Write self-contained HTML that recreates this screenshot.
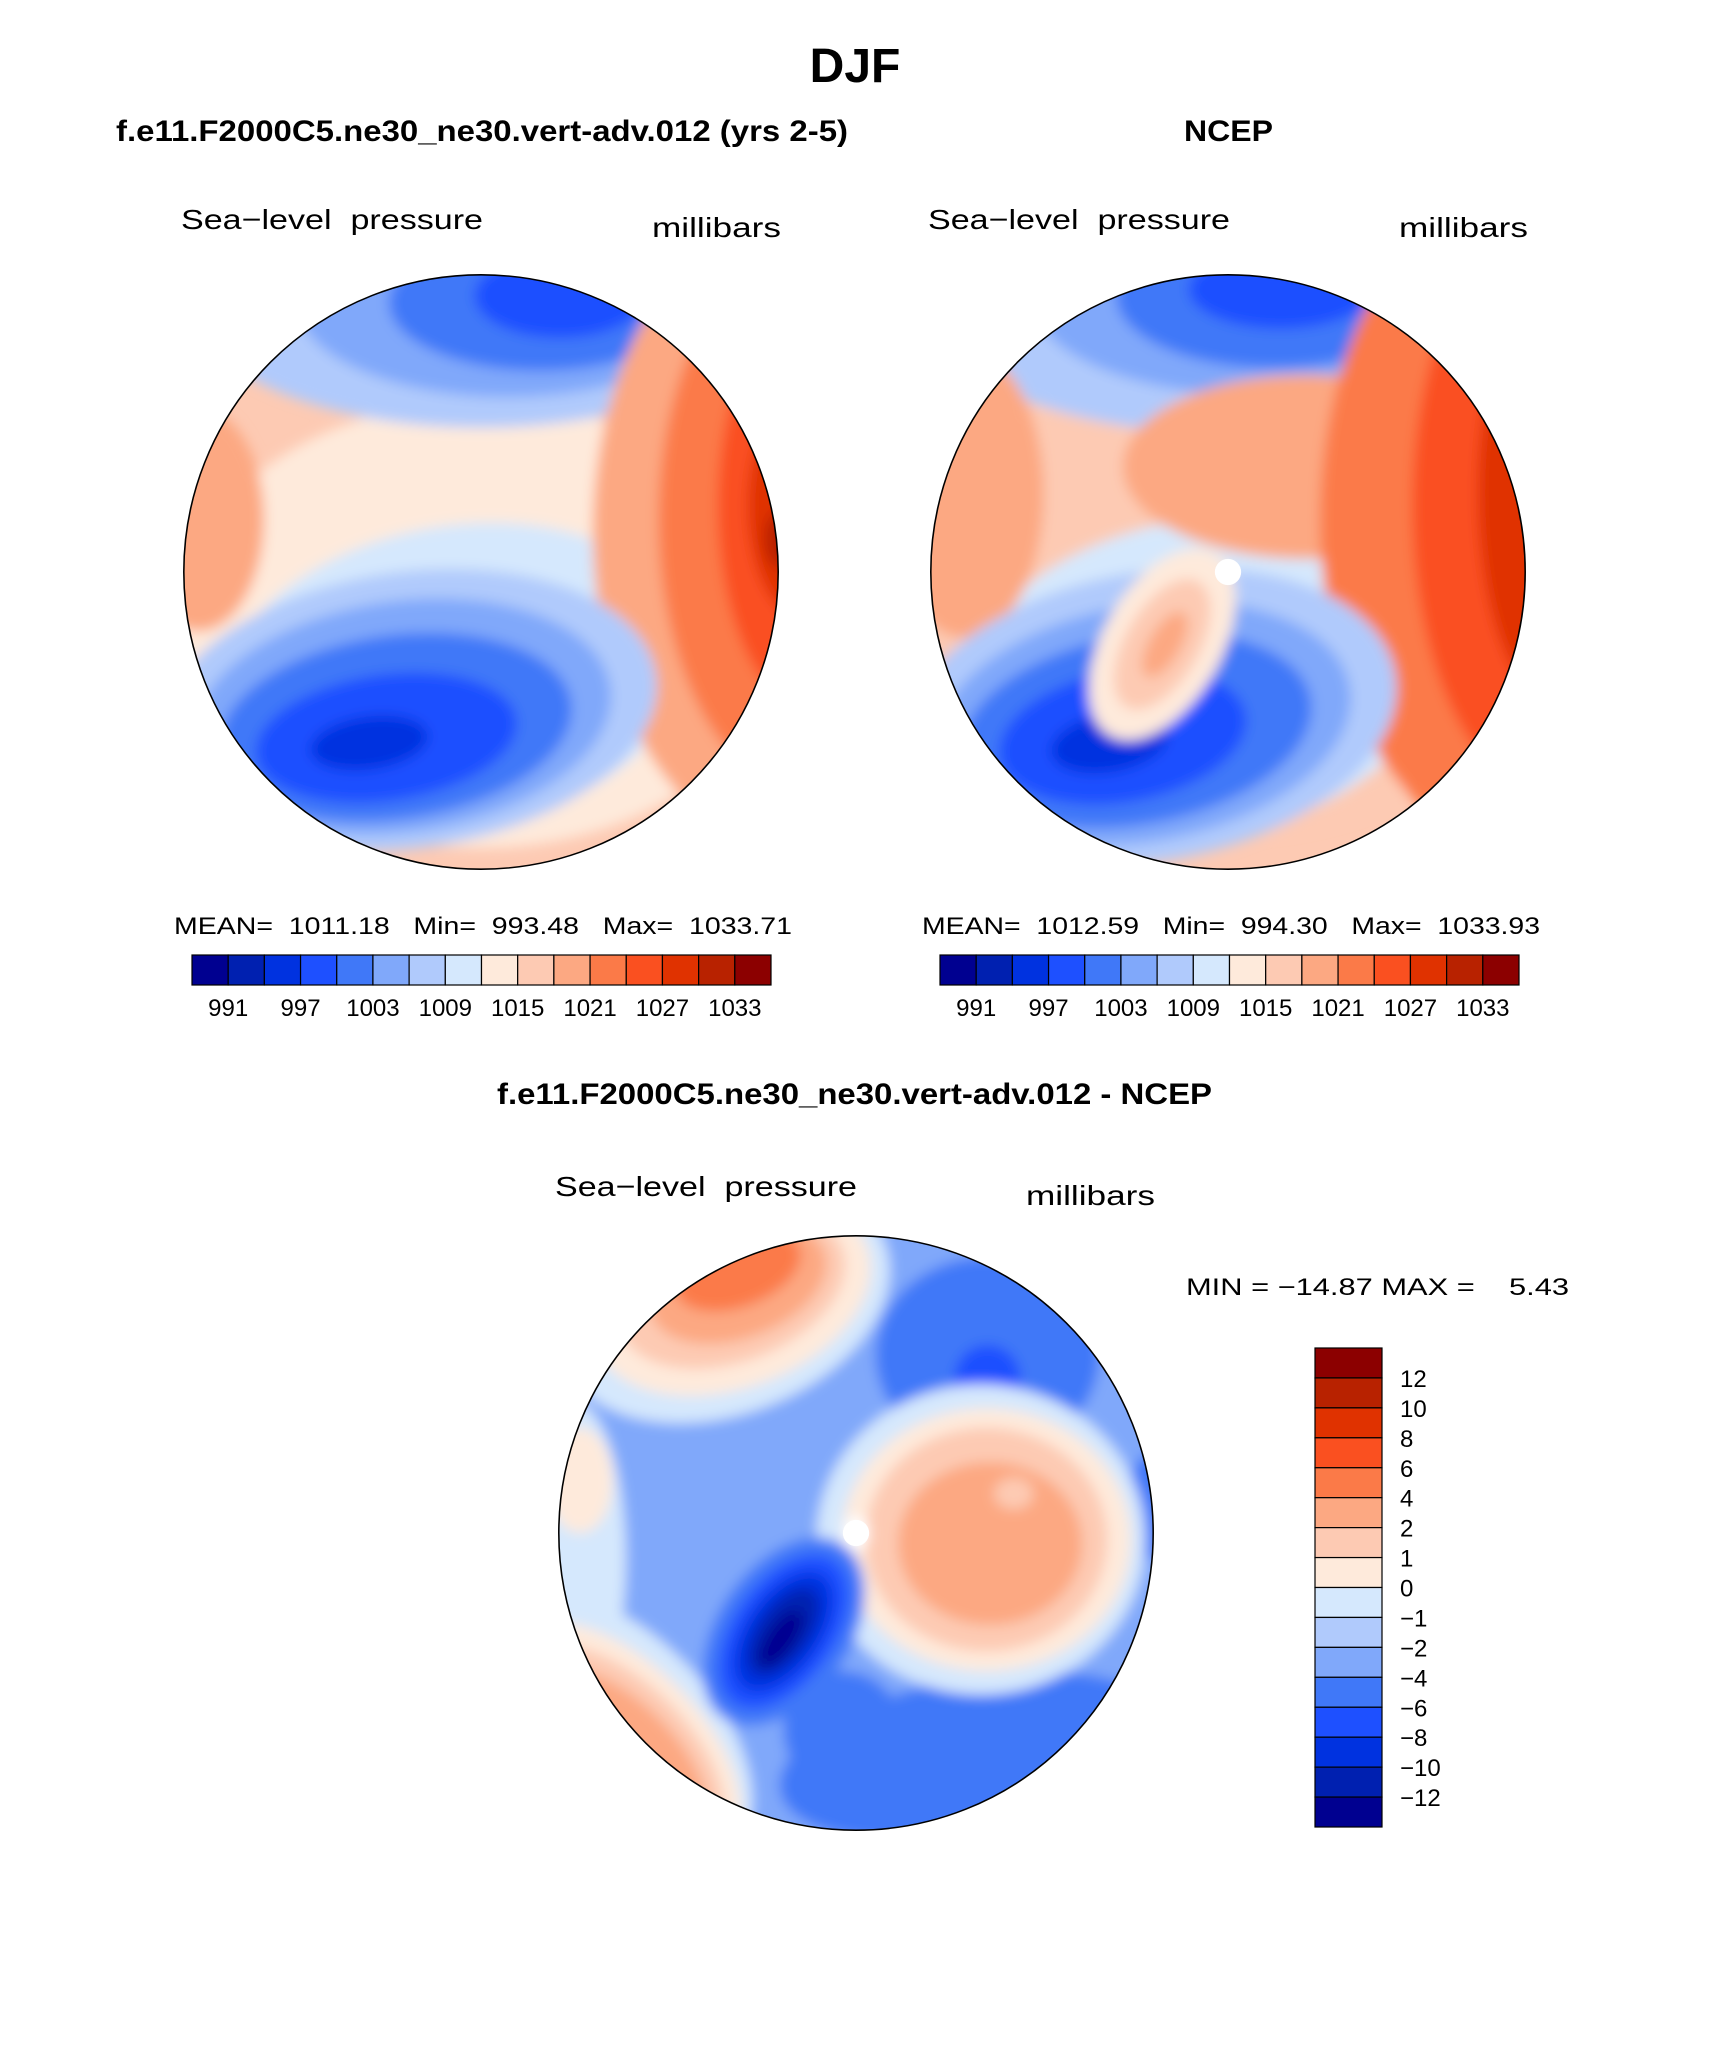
<!DOCTYPE html>
<html><head><meta charset="utf-8"><style>
html,body{margin:0;padding:0;background:#fff}
svg{display:block}
.t{font-family:"Liberation Sans",sans-serif;white-space:pre}
</style></head><body>
<svg id="root" width="1710" height="2061" viewBox="0 0 1710 2061" xmlns="http://www.w3.org/2000/svg" xml:space="preserve">
<defs>
<filter id="blur" x="-20%" y="-20%" width="140%" height="140%"><feGaussianBlur stdDeviation="5"/></filter>
<clipPath id="circ"><circle cx="0" cy="0" r="226"/></clipPath>
</defs>
<text class="t" x="855" y="82" text-anchor="middle" font-size="48" font-weight="bold">DJF</text>
<text class="t" x="116" y="141" font-size="30" font-weight="bold" textLength="732" lengthAdjust="spacingAndGlyphs">f.e11.F2000C5.ne30_ne30.vert-adv.012 (yrs 2-5)</text>
<text class="t" x="1184" y="141" font-size="30" font-weight="bold" textLength="89" lengthAdjust="spacingAndGlyphs">NCEP</text>
<text class="t" x="497" y="1104" font-size="30" font-weight="bold" textLength="715" lengthAdjust="spacingAndGlyphs">f.e11.F2000C5.ne30_ne30.vert-adv.012 - NCEP</text>

<g id="p1"></g>
<g id="p2"></g>
<g id="p3"></g>
<g id="cb"></g>
</svg>
<script>
const NS='http://www.w3.org/2000/svg';
const absColors=['#000090','#0020b0','#0032e0','#1e50ff','#4078f8','#80a8fa','#b0cafc','#d5e8fd','#feeadb','#fdcab3','#fca882','#fb7a48','#fa5020','#e03200','#b82200','#8c0000'];
const absLabels=['991','997','1003','1009','1015','1021','1027','1033'];
const diffLabels=['12','10','8','6','4','2','1','0','\u22121','\u22122','\u22124','\u22126','\u22128','\u221210','\u221212'];
const stats1=['1011.18','993.48','1033.71'];
const stats2=['1012.59','994.30','1033.93'];
const diffStats=['\u221214.87','5.43'];
// blobs: [cx, cy, rx, ry, rotation, colorIndex] in map-local units (radius 226)
const map1=[[0,40,230,170,0,8],[-20,80,180,115,-10,7],[0,-205,220,95,0,6],[20,-205,160,72,0,5],[45,-205,115,52,0,4],[60,-210,65,32,0,3],
[-215,-40,50,85,0,10],[235,-30,150,240,0,10],[245,-40,110,205,0,11],[252,-50,72,155,0,12],[245,-50,42,85,0,13],[228,-25,12,22,0,14],
[-55,105,190,105,-8,6],[-60,110,160,88,-8,5],[-65,118,135,70,-8,4],[-72,126,100,48,-8,3],[-85,130,45,20,-8,2]];
const map2=[[0,20,240,180,0,9],[-20,80,185,120,-10,7],[0,-205,230,100,0,6],[15,-210,165,75,0,5],[35,-210,120,55,0,4],[40,-215,70,30,0,3],
[-200,-60,60,110,0,10],[60,-80,140,70,0,10],[220,-40,150,250,0,11],[240,-50,100,215,0,12],[250,-60,60,160,0,13],[255,-40,20,60,0,14],[258,-30,8,25,0,15],
[-60,110,190,110,-10,6],[-65,115,160,90,-10,5],[-70,120,135,72,-10,4],[-80,125,95,50,-10,3],[-90,130,45,22,-10,2],
[-50,55,45,80,30,8],[-50,55,28,55,30,9],[-48,55,12,28,30,10]];
const map3=[[0,0,260,260,0,5],
[-215,20,40,120,0,7],[-210,-40,25,40,0,8],
[-100,-175,130,85,-20,7],[-95,-180,110,70,-20,8],[-95,-185,90,55,-20,9],[-90,-190,70,42,-20,10],[-90,-200,50,28,-20,11],
[-185,150,130,75,45,7],[-180,160,115,62,45,8],[-180,165,100,52,45,9],[-180,170,85,42,45,10],[-200,200,30,25,45,11],
[100,-135,85,75,0,4],[100,-118,25,25,0,3],[225,-20,20,40,0,4],
[90,170,150,60,-10,4],[-10,150,45,45,0,4],
[95,5,125,118,0,7],[99,5,110,100,0,8],[99,5,92,85,0,9],[102,8,70,62,0,10],[120,-30,15,12,0,9],
[-55,75,50,80,35,4],[-55,75,38,66,35,3],[-55,75,28,52,35,2],[-55,75,19,38,35,1],[-57,80,10,25,35,0],
[0,0,10,13,0,-1]];
const S=1.315;
function mk(tag,attrs,parent){const e=document.createElementNS(NS,tag);for(const k in attrs)e.setAttribute(k,attrs[k]);parent.appendChild(e);return e;}
function drawMap(id,cx,cy,blobs,bg,dot){
  const g=document.getElementById(id);
  const t=mk('g',{transform:`translate(${cx},${cy}) scale(${S})`},g);
  const c=mk('g',{'clip-path':'url(#circ)'},t);
  mk('circle',{cx:0,cy:0,r:226,fill:bg},c);
  const bl=mk('g',{filter:'url(#blur)'},c);
  blobs.forEach(b=>{
    const e=mk('ellipse',{cx:b[0],cy:b[1],rx:b[2],ry:b[3],transform:`rotate(${b[4]} ${b[0]} ${b[1]})`,fill:b[5]<0?'#fff':absColors[b[5]]},bl);
    
    
  });
  if(dot){mk('circle',{cx:0,cy:0,r:10,fill:'#fff'},c);}
  mk('circle',{cx:0,cy:0,r:226,fill:'none',stroke:'#000','stroke-width':1.2},t);
}
drawMap('p1',481,572,map1,absColors[9],false);
drawMap('p2',1228,572,map2,absColors[9],true);
drawMap('p3',856,1533,map3,absColors[5],true);
const root=document.getElementById('root');
function txt(x,y,s,size,anchor,name,len){const a={x:x,y:y,'font-size':size,'text-anchor':anchor||'start','class':'t'};
 if(len){a.textLength=len;a.lengthAdjust='spacingAndGlyphs';}
 const e=mk('text',a,root);e.textContent=s;
 return e;}
[[181,652,228],[928,1399,228]].forEach(p=>{
  txt(p[0],p[2]+1,'Sea\u2212level  pressure',28,'start','left-string',302);
  txt(p[1],p[2]+9,'millibars',28,'start','units-string',129);
});
txt(555,1196,'Sea\u2212level  pressure',28,'start','left-string',302);
txt(1026,1205,'millibars',28,'start','units-string',129);
const cbw=(771-192)/16;
function hbar(x0,stats){
  txt(x0-18,934,`MEAN=  ${stats[0]}   Min=  ${stats[1]}   Max=  ${stats[2]}`,24,'start','stats-text',618);
  for(let i=0;i<16;i++){const r=mk('rect',{x:x0+i*cbw,y:955,width:cbw,height:30,fill:absColors[i],stroke:'#000','stroke-width':1.2},root);
    }
  absLabels.forEach((l,k)=>txt(x0+(2*k+1)*cbw,1016,l,24,'middle','colorbar-label'));
}
hbar(192,stats1);hbar(940,stats2);
txt(1186,1295,`MIN = ${diffStats[0]} MAX =    ${diffStats[1]}`,24,'start','min-max-text',383);
const vh=(1827-1348)/16;
for(let i=0;i<16;i++){const r=mk('rect',{x:1315,y:1348+i*vh,width:67,height:vh,fill:absColors[15-i],stroke:'#000','stroke-width':1.2},root);
  }
diffLabels.forEach((l,k)=>txt(1400,1348+(k+1)*vh+9,l,24,'start','diff-colorbar-label'));
</script>
</body></html>
